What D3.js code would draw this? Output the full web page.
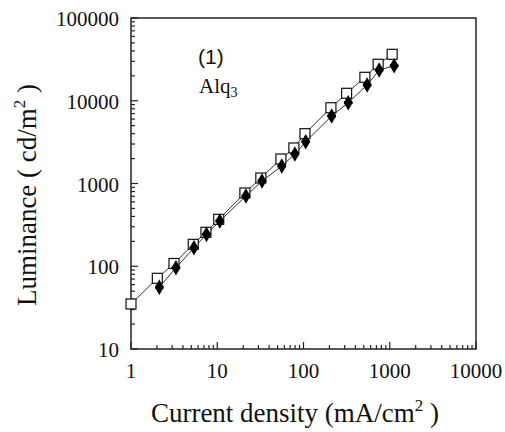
<!DOCTYPE html>
<html>
<head>
<meta charset="utf-8">
<script src="https://cdn.jsdelivr.net/npm/d3@7"></script>
<style>
  body { margin: 0; background: #fff; }
  text { font-family: "Liberation Serif", "Times New Roman", serif; fill: #111; }
</style>
</head>
<body>
<svg id="chart" width="505" height="432"></svg>
<script>
// open squares (upper curve)
var squareX = [1, 2.02, 3.15, 5.27, 7.4, 10.4, 20.9, 32, 54.7, 77.4, 104, 208, 316, 515, 734, 1066];
var squareY = [35, 71.5, 108, 184, 257, 369, 768, 1165, 1977, 2686, 4000, 8240, 12300, 19200, 27600, 36400];
// filled diamonds (lower curve)
var diamondX = [2.13, 3.32, 5.37, 7.5, 10.7, 21.5, 33, 56, 79.5, 106, 212, 330, 547, 754, 1125];
var diamondY = [55.7, 96, 167, 243, 352, 706, 1072, 1624, 2273, 3200, 6540, 9480, 15500, 23500, 26500];

var xTicks = [1, 10, 100, 1000, 10000];
var yTicks = [10, 100, 1000, 10000, 100000];

var svg = d3.select("#chart");
// plot box (note: "top" is taken by window.top)
var pLeft = 131, pRight = 476, pTop = 18, pBottom = 349;

var x = d3.scaleLog().domain([1, 10000]).range([pLeft, pRight]);
var y = d3.scaleLog().domain([10, 100000]).range([pBottom, pTop]);

// minor ticks for each decade
function minors(lo, hi) {
  var out = [];
  for (var d = lo; d < hi; d *= 10)
    for (var k = 2; k <= 9; k++) out.push(d * k);
  return out;
}

// frame
svg.append("rect")
  .attr("x", pLeft).attr("y", pTop)
  .attr("width", pRight - pLeft).attr("height", pBottom - pTop)
  .attr("fill", "none").attr("stroke", "#222").attr("stroke-width", 1.5);

// x ticks (inward)
var gx = svg.append("g");
gx.selectAll(".minor").data(minors(1, 10000)).enter().append("line")
  .attr("x1", function(d) { return x(d); }).attr("x2", function(d) { return x(d); })
  .attr("y1", pBottom).attr("y2", pBottom - 4)
  .attr("stroke", "#222").attr("stroke-width", 1.2);
gx.selectAll(".major").data(xTicks).enter().append("line")
  .attr("x1", function(d) { return x(d); }).attr("x2", function(d) { return x(d); })
  .attr("y1", pBottom).attr("y2", pBottom - 7)
  .attr("stroke", "#222").attr("stroke-width", 1.2);
gx.selectAll("text").data(xTicks).enter().append("text")
  .attr("x", function(d) { return x(d); })
  .attr("y", pBottom + 29)
  .attr("text-anchor", "middle")
  .style("font-size", "21px")
  .text(function(d) { return d; });

// y ticks (inward)
var gy = svg.append("g");
gy.selectAll(".minor").data(minors(10, 100000)).enter().append("line")
  .attr("y1", function(d) { return y(d); }).attr("y2", function(d) { return y(d); })
  .attr("x1", pLeft).attr("x2", pLeft + 4)
  .attr("stroke", "#222").attr("stroke-width", 1.2);
gy.selectAll(".major").data(yTicks).enter().append("line")
  .attr("y1", function(d) { return y(d); }).attr("y2", function(d) { return y(d); })
  .attr("x1", pLeft).attr("x2", pLeft + 7)
  .attr("stroke", "#222").attr("stroke-width", 1.2);
gy.selectAll("text").data(yTicks).enter().append("text")
  .attr("x", pLeft - 12)
  .attr("y", function(d) { return y(d) + 8; })
  .attr("text-anchor", "end")
  .style("font-size", "21px")
  .text(function(d) { return d; });

// series lines
var line = d3.line()
  .x(function(d) { return x(d[0]); })
  .y(function(d) { return y(d[1]); });

var sq = d3.zip(squareX, squareY);
var dm = d3.zip(diamondX, diamondY);

svg.append("path").datum(sq).attr("d", line)
  .attr("fill", "none").attr("stroke", "#333").attr("stroke-width", 1);
svg.append("path").datum(dm).attr("d", line)
  .attr("fill", "none").attr("stroke", "#333").attr("stroke-width", 1);

// squares
svg.selectAll(".sq").data(sq).enter().append("rect")
  .attr("x", function(d) { return x(d[0]) - 5; })
  .attr("y", function(d) { return y(d[1]) - 5; })
  .attr("width", 10).attr("height", 10)
  .attr("fill", "#fff").attr("stroke", "#111").attr("stroke-width", 1.2);

// diamonds (drawn over the squares)
svg.selectAll(".dm").data(dm).enter().append("path")
  .attr("transform", function(d) { return "translate(" + x(d[0]) + "," + y(d[1]) + ")"; })
  .attr("d", d3.symbol().type(d3.symbolDiamond).size(70))
  .attr("fill", "#000");
svg.selectAll(".dmc").data(dm).enter().append("path")
  .attr("transform", function(d) { return "translate(" + x(d[0]) + "," + y(d[1]) + ")"; })
  .attr("d", d3.symbol().type(d3.symbolCross).size(40))
  .attr("fill", "#000");

// annotations
svg.append("text")
  .attr("x", 198).attr("y", 64)
  .style("font-family", "'Liberation Sans', Arial, sans-serif")
  .style("font-size", "21px")
  .text("(1)");
var alq = svg.append("text")
  .attr("x", 199).attr("y", 93)
  .style("font-size", "21px");
alq.append("tspan").text("Alq");
alq.append("tspan").attr("dy", 4).style("font-size", "14px").text("3");

// axis titles
var xt = svg.append("text")
  .attr("x", 295).attr("y", 422)
  .attr("text-anchor", "middle")
  .style("font-size", "27px");
xt.append("tspan").text("Current density (mA/cm");
xt.append("tspan").attr("dy", -11).style("font-size", "17px").text("2");
xt.append("tspan").attr("dy", 11).text(" )");

var yt = svg.append("text")
  .attr("transform", "translate(36,195) rotate(-90)")
  .attr("text-anchor", "middle")
  .style("font-size", "27px");
yt.append("tspan").text("Luminance ( cd/m");
yt.append("tspan").attr("dy", -11).style("font-size", "17px").text("2");
yt.append("tspan").attr("dy", 11).text(" )");
</script>
</body>
</html>
